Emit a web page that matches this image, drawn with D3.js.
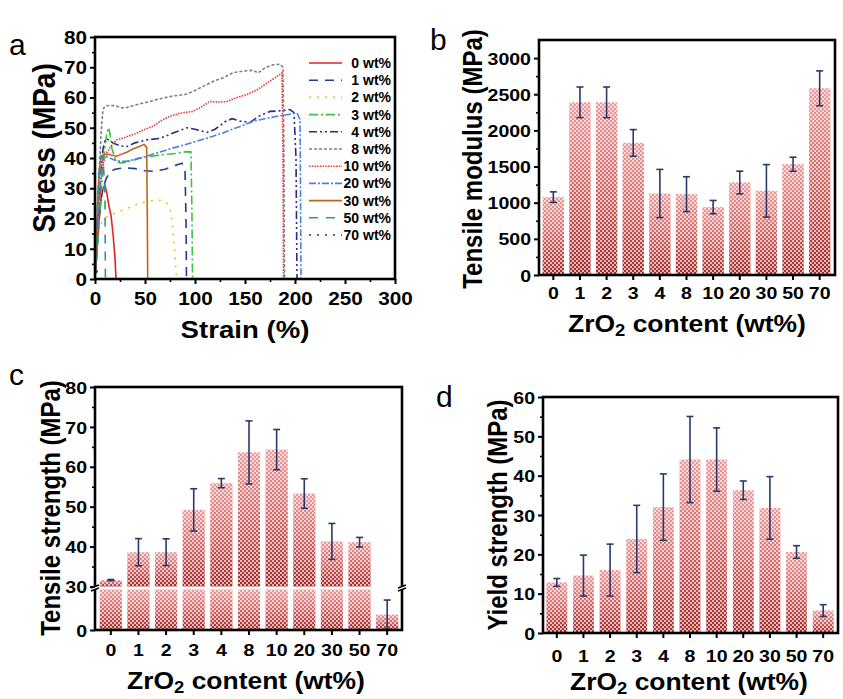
<!DOCTYPE html>
<html>
<head>
<meta charset="utf-8">
<script src="https://cdn.jsdelivr.net/npm/d3@7"></script>
<style>
  body { margin: 0; background: #fff; }
  svg { display: block; font-family: "Liberation Sans", Arial, sans-serif; }
</style>
</head>
<body>
<svg id="fig" width="843" height="699"></svg>
<script>
// ---- data ----
const seriesNames = ["0 wt%", "1 wt%", "2 wt%", "3 wt%", "4 wt%", "8 wt%", "10 wt%", "20 wt%", "30 wt%", "50 wt%", "70 wt%"];

// stress-strain curves, [strain %, stress MPa]
const curve0 = [[0,0],[2,10],[4,19],[6,26],[8,30],[10,31],[12,28],[14,24],[16,21],[18,15],[20,7],[21,0]];
const curve1 = [[0,0],[2,10],[4,20],[6,27],[8,30],[11,33],[15,35.5],[20,36.3],[30,36.8],[40,36.5],[50,35.8],[60,35.6],[70,36.3],[80,37.5],[87,38.3],[90,36],[91,20],[91.5,0]];
const curve2 = [[0,0],[1,6],[2,11],[3,15],[5,17.5],[8,19.5],[12,20.6],[20,21.8],[30,23],[40,24.5],[50,25.5],[60,26],[66,26],[72,25],[76,22],[78,16],[80,8],[81.5,0]];
const curve3 = [[0,0],[2,8],[4,18],[6,28],[8,37],[10,44],[12,48.5],[13.5,50],[15,48],[17,43],[20,40],[25,38.3],[30,38.5],[45,39.9],[55,40.5],[65,41],[80,41.5],[92,42.1],[96,42],[97,20],[97.5,0]];
const curve4 = [[0,0],[2,12],[4,25],[6,36],[8,43],[10,46],[12,46.3],[18,45],[25,44],[32,43.8],[40,45],[52,46],[65,46.5],[80,48.5],[92,50],[100,49.5],[112,48.5],[120,49.5],[130,52],[137,53],[145,52.2],[155,51.8],[165,54],[175,55.4],[185,55.6],[195,56],[199,55],[201,40],[202,0]];
const curve8 = [[0,0],[2,15],[4,33],[6,48],[8,56],[10,57.2],[15,57.4],[20,57.3],[25,56.7],[30,56.5],[40,57.5],[55,58.7],[65,59.6],[78,60.5],[90,61],[98,62],[110,64],[118,65.3],[128,66.5],[138,68.2],[148,68.7],[158,69],[163,68.1],[170,69.8],[178,70.8],[185,71],[188,70],[189,40],[189.5,0]];
const curve10 = [[0,0],[2,10],[4,22],[6,33],[8,38],[11.7,41.7],[16,44],[21.7,46],[30,46.8],[40,48],[50,49.5],[58,50.5],[67,52.5],[75,53.8],[85,54.8],[98,55.4],[107,57],[115,58.7],[125,58.5],[132,58.7],[142,60],[152,61],[162,62.5],[172,64.8],[180,66.5],[187,68.1],[188,40],[188.5,0]];
const curve20 = [[0,0],[2,12],[4,26],[6,36],[8.3,40.6],[12,40.5],[18,39.5],[25,38.9],[31.7,38.9],[42,39.8],[51.7,40.6],[65,42],[78,43.3],[88,44.2],[98,45.2],[108,46.2],[118,47.2],[128,48.3],[138,49.6],[148,50.8],[158,52.1],[170,53],[182,53.8],[192,54.3],[202,54.9],[205,52.7],[205.5,30],[206,0]];
const curve30 = [[0,0],[1,10],[2,20],[3,28],[4,34],[5,38],[6,40],[8.3,41.1],[12,41.3],[15,41.1],[21.7,40.6],[26,41.2],[31.7,41.9],[38,43],[45,43.9],[49,44.5],[51.7,43.5],[52.3,20],[52.7,0]];
const curve50 = [[0,0],[1,8],[2,18],[3,28],[4,35],[5,39],[6,41],[7,40],[8.5,37],[9.5,32],[10,25],[10.2,12],[10.4,0]];
const curve70 = [[0,0],[0.5,2],[1,3.5],[1.5,4],[2,3],[2.5,0]];
const curves = [curve0, curve1, curve2, curve3, curve4, curve8, curve10, curve20, curve30, curve50, curve70];

// bar panels
const contents = ["0", "1", "2", "3", "4", "8", "10", "20", "30", "50", "70"];
const modulus = [1077, 2388, 2388, 1827, 1127, 1118, 939, 1279, 1164, 1532, 2582];
const modulusErr = [73, 212, 212, 184, 333, 241, 92, 157, 363, 97, 241];
const tensile = [31.6, 38.6, 38.6, 49.2, 55.9, 63.6, 64.3, 53.3, 41.3, 41.1, 3.8];
const tensileErr = [0.15, 3.4, 3.35, 5.3, 1.15, 7.9, 5.05, 3.7, 4.5, 1.2, 3.6];
const yieldStr = [12.85, 14.6, 16.0, 23.9, 32.0, 44.1, 44.1, 36.3, 31.8, 20.6, 5.7];
const yieldErr = [1.0, 5.2, 6.6, 8.55, 8.45, 10.95, 8.05, 2.35, 7.95, 1.6, 1.5];

// ---- styles ----
const lineColors = ["#e3231f", "#1f3c99", "#f4c20d", "#3cc23c", "#2b2b8a", "#808080", "#e8393a", "#4a80e0", "#c2651a", "#2a9a8e", "#2727cc"];
const lineDashes = [null, "9,7", "2,6", "9,3,2,3", "8,3,2,3,2,3", "3,2", "1.5,1.2", "7,2,2,2", null, "9,8", "2,6"];
const errColor = "#29396a";
const STR = 1.15;   // the lettering in the original is a bit wide

const svg = d3.select("#fig");

const defs = svg.append("defs");
const grad = defs.append("linearGradient").attr("id", "barGrad")
  .attr("x1", 0).attr("y1", 0).attr("x2", 0).attr("y2", 1);
grad.append("stop").attr("offset", 0).attr("stop-color", "#ee9a9a");
grad.append("stop").attr("offset", 0.45).attr("stop-color", "#d86a6a");
grad.append("stop").attr("offset", 1).attr("stop-color", "#a32828");
const pat = defs.append("pattern").attr("id", "checker")
  .attr("width", 4).attr("height", 4).attr("patternUnits", "userSpaceOnUse");
pat.append("rect").attr("width", 2).attr("height", 2).attr("fill", "#fff").attr("fill-opacity", 0.65);
pat.append("rect").attr("x", 2).attr("y", 2).attr("width", 2).attr("height", 2).attr("fill", "#fff").attr("fill-opacity", 0.65);

// ---- helpers ----
function hText(g, x, y, str, size, anchor) {
  return g.append("text")
    .attr("transform", `translate(${x},${y}) scale(${STR},1)`)
    .attr("text-anchor", anchor || "middle")
    .attr("font-size", size)
    .attr("font-weight", "bold")
    .text(str);
}

function vText(g, x, y, str, size) {
  return g.append("text")
    .attr("transform", `translate(${x},${y}) rotate(-90) scale(1,${STR})`)
    .attr("text-anchor", "middle")
    .attr("font-size", size)
    .attr("font-weight", "bold")
    .text(str);
}

function zrTitle(g, x, y) {
  const t = g.append("text")
    .attr("transform", `translate(${x},${y}) scale(${STR},1)`)
    .attr("text-anchor", "middle")
    .attr("font-size", 23)
    .attr("font-weight", "bold");
  t.append("tspan").text("ZrO");
  t.append("tspan").attr("dy", 4).attr("font-size", 16).text("2");
  t.append("tspan").attr("dy", -4).text(" content (wt%)");
}

function panelLetter(x, y, s) {
  svg.append("text").attr("x", x).attr("y", y)
    .attr("font-size", 30).attr("font-weight", "normal").text(s);
}

function leftAxis(scale, x, major, minor, size) {
  const ax = svg.append("g").attr("transform", `translate(${x},0)`)
    .call(d3.axisLeft(scale).tickValues(major).tickSize(5).tickPadding(3).tickFormat(d => d));
  ax.select(".domain").remove();
  ax.selectAll(".tick line").attr("stroke", "#000").attr("stroke-width", 2);
  ax.selectAll(".tick text")
    .attr("x", null).attr("dy", "0.36em")
    .attr("transform", `translate(-8,0) scale(${STR},1)`)
    .attr("font-size", size).attr("font-weight", "bold").attr("fill", "#000")
    .attr("font-family", "Liberation Sans, Arial, sans-serif");
  if (minor) {
    const mi = svg.append("g").attr("transform", `translate(${x},0)`)
      .call(d3.axisLeft(scale).tickValues(minor).tickSize(3).tickFormat(""));
    mi.select(".domain").remove();
    mi.selectAll(".tick line").attr("stroke", "#000").attr("stroke-width", 1.6);
  }
}

function bottomAxis(scale, y, major, minor, size, off) {
  const ax = svg.append("g").attr("transform", `translate(0,${y})`)
    .call(d3.axisBottom(scale).tickValues(major).tickSize(5));
  ax.select(".domain").remove();
  ax.selectAll(".tick line").attr("stroke", "#000").attr("stroke-width", 2);
  ax.selectAll(".tick text")
    .attr("y", null).attr("dy", "0.71em")
    .attr("transform", `translate(0,${off}) scale(${STR},1)`)
    .attr("font-size", size).attr("font-weight", "bold").attr("fill", "#000")
    .attr("font-family", "Liberation Sans, Arial, sans-serif");
  if (minor) {
    const mi = svg.append("g").attr("transform", `translate(0,${y})`)
      .call(d3.axisBottom(scale).tickValues(minor).tickSize(3).tickFormat(""));
    mi.select(".domain").remove();
    mi.selectAll(".tick line").attr("stroke", "#000").attr("stroke-width", 1.6);
  }
}

function frame(x0, y0, x1, y1) {
  return svg.append("rect").attr("x", x0).attr("y", y0)
    .attr("width", x1 - x0).attr("height", y1 - y0)
    .attr("fill", "none").attr("stroke", "#000").attr("stroke-width", 2.6);
}

function drawBar(g, x, w, yTop, yBot) {
  g.append("rect").attr("x", x).attr("y", yTop).attr("width", w).attr("height", yBot - yTop)
    .attr("fill", "url(#barGrad)");
  g.append("rect").attr("x", x).attr("y", yTop).attr("width", w).attr("height", yBot - yTop)
    .attr("fill", "url(#checker)");
}

function drawErr(g, cx, yHi, yLo) {
  g.append("line").attr("x1", cx).attr("x2", cx).attr("y1", yHi).attr("y2", yLo)
    .attr("stroke", errColor).attr("stroke-width", 1.6);
  [yHi, yLo].forEach(yy => {
    g.append("line").attr("x1", cx - 3.5).attr("x2", cx + 3.5).attr("y1", yy).attr("y2", yy)
      .attr("stroke", errColor).attr("stroke-width", 1.6);
  });
}

// ---- panel a: stress-strain curves ----
{
  const x = d3.scaleLinear().domain([0, 300]).range([95, 395]);
  const y = d3.scaleLinear().domain([0, 80]).range([279, 37]);
  const g = svg.append("g");
  g.append("clipPath").attr("id", "clipA").append("rect")
    .attr("x", 95).attr("y", 37).attr("width", 300).attr("height", 242);
  const line = d3.line().x(d => x(d[0])).y(d => y(d[1]));
  const lines = g.append("g").attr("clip-path", "url(#clipA)");
  curves.forEach((c, i) => {
    lines.append("path").attr("d", line(c))
      .attr("fill", "none").attr("stroke", lineColors[i]).attr("stroke-width", 1.6)
      .attr("stroke-dasharray", lineDashes[i]);
  });

  // legend
  const leg = svg.append("g");
  seriesNames.forEach((n, i) => {
    const ly = 63 + i * 17.2;
    leg.append("line").attr("x1", 309).attr("x2", 342).attr("y1", ly).attr("y2", ly)
      .attr("stroke", lineColors[i]).attr("stroke-width", 1.6)
      .attr("stroke-dasharray", lineDashes[i]);
    leg.append("text").attr("x", 391).attr("y", ly + 5)
      .attr("text-anchor", "end").attr("font-size", 14).attr("font-weight", "bold").text(n);
  });

  frame(95, 37, 395, 279);
  leftAxis(y, 95, d3.range(0, 81, 10), d3.range(5, 80, 10), 18);
  bottomAxis(x, 279, d3.range(0, 301, 50), d3.range(25, 300, 50), 18, 13);
  hText(svg, 245, 338, "Strain (%)", 24);
  vText(svg, 55, 148, "Stress (MPa)", 28);
  panelLetter(9, 55, "a");
}

// ---- panel b: tensile modulus ----
{
  const x = d3.scaleBand().domain(contents).range([540, 833]).paddingInner(0.2).paddingOuter(0.1);
  const y = d3.scaleLinear().domain([0, 3250]).range([275, 40]);
  const g = svg.append("g");
  contents.forEach((c, i) => {
    drawBar(g, x(c), x.bandwidth(), y(modulus[i]), y(0));
  });
  contents.forEach((c, i) => {
    drawErr(g, x(c) + x.bandwidth() / 2, y(modulus[i] + modulusErr[i]), y(modulus[i] - modulusErr[i]));
  });
  frame(539, 40, 835, 275);
  leftAxis(y, 539, d3.range(0, 3001, 500), d3.range(250, 3250, 500), 17);
  bottomAxis(x, 275, contents, null, 17, 12);
  zrTitle(svg, 687, 332);
  vText(svg, 482, 159, "Tensile modulus (MPa)", 24);
  panelLetter(430, 50, "b");
}

// ---- panel c: tensile strength, broken axis ----
{
  const x = d3.scaleBand().domain(contents).range([97, 401]).paddingInner(0.2).paddingOuter(0.1);
  const yUp = d3.scaleLinear().domain([30, 80]).range([586.5, 387]);
  const yLo = d3.scaleLinear().domain([0, 10]).range([630, 589.5]);
  const yC = v => v >= 30 ? yUp(v) : yLo(Math.min(v, 10));
  const g = svg.append("g");
  contents.forEach((c, i) => {
    const v = tensile[i];
    if (v >= 30) {
      drawBar(g, x(c), x.bandwidth(), yUp(v), yUp(30));
      drawBar(g, x(c), x.bandwidth(), yLo(10), yLo(0));
    } else {
      drawBar(g, x(c), x.bandwidth(), yLo(v), yLo(0));
    }
  });
  contents.forEach((c, i) => {
    drawErr(g, x(c) + x.bandwidth() / 2, yC(tensile[i] + tensileErr[i]), yC(tensile[i] - tensileErr[i]));
  });
  frame(95, 387, 402, 630);
  // axis break marks
  [95, 402].forEach(bx => {
    svg.append("rect").attr("x", bx - 3).attr("y", yUp(30)).attr("width", 6)
      .attr("height", yLo(10) - yUp(30)).attr("fill", "#fff");
    [yUp(30), yLo(10)].forEach(by => {
      svg.append("line").attr("x1", bx - 4).attr("x2", bx + 4).attr("y1", by + 1.5).attr("y2", by - 1.5)
        .attr("stroke", "#000").attr("stroke-width", 1.6);
    });
  });
  leftAxis(yUp, 95, d3.range(30, 81, 10), d3.range(35, 80, 10), 17);
  leftAxis(yLo, 95, [0], null, 17);
  bottomAxis(x, 630, contents, null, 17, 14);
  zrTitle(svg, 246, 689);
  vText(svg, 60, 508, "Tensile strength (MPa)", 24);
  panelLetter(9, 385, "c");
}

// ---- panel d: yield strength ----
{
  const x = d3.scaleBand().domain(contents).range([543.5, 836.5]).paddingInner(0.22).paddingOuter(0.11);
  const y = d3.scaleLinear().domain([0, 60]).range([633, 397]);
  const g = svg.append("g");
  contents.forEach((c, i) => {
    drawBar(g, x(c), x.bandwidth(), y(yieldStr[i]), y(0));
  });
  contents.forEach((c, i) => {
    drawErr(g, x(c) + x.bandwidth() / 2, y(yieldStr[i] + yieldErr[i]), y(yieldStr[i] - yieldErr[i]));
  });
  frame(543, 397, 838, 633);
  leftAxis(y, 543, d3.range(0, 61, 10), d3.range(5, 60, 10), 17);
  bottomAxis(x, 633, contents, null, 17, 17);
  zrTitle(svg, 689, 690);
  vText(svg, 507, 515, "Yield strength (MPa)", 24);
  panelLetter(436, 407, "d");
}
</script>
</body>
</html>
